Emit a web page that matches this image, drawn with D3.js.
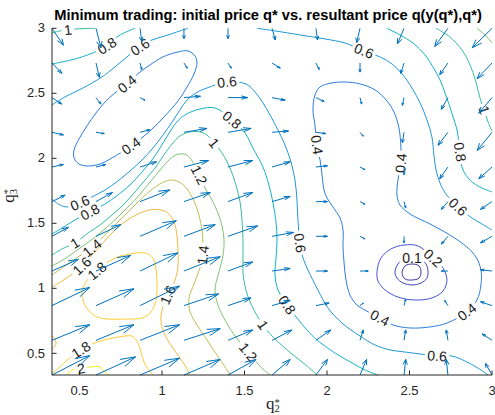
<!DOCTYPE html>
<html>
<head>
<meta charset="utf-8">
<script src="https://cdn.jsdelivr.net/npm/d3@7/dist/d3.min.js"></script>
<style>
  html, body { margin: 0; padding: 0; background: #fff; }
  svg { display: block; }
</style>
</head>
<body>
<svg id="chart" width="495" height="415"></svg>
<script>
// ---------------- data ----------------
const titleText = "Minimum trading: initial price q* vs. resultant price q(y(q*),q*)";
const xTicks = [0.5, 1, 1.5, 2, 2.5, 3];
const yTicks = [0.5, 1, 1.5, 2, 2.5, 3];

// quiver grid (q2 along columns, q3 along rows)
const q2Grid = [0.333, 0.600, 0.867, 1.133, 1.400, 1.667, 1.933, 2.200, 2.467, 2.733, 3.000];
const q3Grid = [0.333, 0.600, 0.867, 1.133, 1.400, 1.667, 1.933, 2.200, 2.467, 2.733, 3.000];

// price change field, in hundredths of a price unit; row = q3Grid index
const uField = [
  [23, 24, 24, 22, 17, 11, 7, 4, 1, -1, -4],
  [23, 23, 24, 22, 15, 12, 9, 2, 1, -1, -6],
  [23, 23, 24, 21, 14, 11, 8, 2, 1, -2, -7],
  [16, 21, 23, 22, 15, 11, 7, 5, 0, -4, -7],
  [10, 15, 22, 19, 18, 13, 7, 3, 0, -4, -7],
  [8, 10, 18, 16, 15, 11, 7, 3, 1, -4, -7],
  [7, 6, 10, 15, 15, 11, 7, 3, 0, -5, -8],
  [7, 5, 6, 14, 14, 10, 6, 2, -1, -6, -9],
  [6, 3, 3, 10, 12, 8, 5, 1, -1, -4, -8],
  [6, 2, 1, 2, 2, 5, 2, 0, -2, -5, -9],
  [7, 3, 1, 0, 0, 2, 1, -2, -4, -8, -12]
];
const vField = [
  [15, 14, 13, 12, 12, 12, 12, 12, 12, 12, 9],
  [12, 12, 12, 9, 8, 8, 8, 8, 8, 8, 5],
  [14, 13, 15, 9, 6, 4, 2, 2, 5, 4, 3],
  [9, 12, 14, 11, 7, 2, 0, 0, 0, 0, 1],
  [7, 9, 12, 9, 8, 3, 0, -2, -5, -6, -5],
  [5, 7, 9, 7, 7, 4, 0, -2, -5, -6, -6],
  [2, 2, 4, 5, 5, 4, 1, -2, -6, -9, -9],
  [-2, -1, 2, 3, 3, 1, -1, -3, -8, -10, -14],
  [-5, -5, -2, 1, 0, -2, -3, -5, -6, -9, -12],
  [-8, -11, -5, -4, -4, -4, -5, -7, -8, -9, -12],
  [-13, -15, -10, -8, -8, -9, -9, -11, -12, -14, -15]
];

// contour levels of the resultant price distance
const levels = [0.05, 0.1, 0.2, 0.4, 0.6, 0.8, 1, 1.2, 1.4, 1.6, 1.8, 2];

// iso-lines, as [q2, q3] points
const c200 = [[0.424,0.333],[0.455,0.372],[0.509,0.383],[0.564,0.395],[0.624,0.395],[0.648,0.364],[0.679,0.333]];
const c180a = [[0.333,0.341],[0.382,0.395],[0.424,0.449],[0.467,0.487],[0.509,0.526],[0.552,0.556],[0.606,0.587],[0.703,0.618],[0.776,0.633],[0.818,0.633],[0.848,0.595],[0.873,0.510],[0.891,0.433],[0.915,0.380],[0.945,0.333]];
const c180b = [[0.521,0.910],[0.515,0.972],[0.539,1.049],[0.576,1.103],[0.606,1.133],[0.648,1.180],[0.715,1.233],[0.806,1.264],[0.897,1.272],[0.945,1.233],[0.964,1.141],[0.970,1.026],[0.964,0.910],[0.933,0.818],[0.879,0.772],[0.776,0.764],[0.673,0.764],[0.606,0.780],[0.558,0.826],[0.533,0.872],[0.521,0.910]];
const c160a = [[0.333,1.010],[0.394,1.056],[0.455,1.110],[0.515,1.172],[0.582,1.264],[0.642,1.349],[0.709,1.441],[0.782,1.518],[0.855,1.572],[0.927,1.603],[0.988,1.603],[1.036,1.579],[1.073,1.510],[1.091,1.403],[1.097,1.280],[1.097,1.172],[1.079,1.064],[1.036,0.949],[1.000,0.833],[0.994,0.741],[1.018,0.641],[1.061,0.549],[1.109,0.464],[1.145,0.395],[1.170,0.333]];
const c160b = [[0.333,0.633],[0.352,0.610],[0.358,0.579],[0.352,0.556],[0.333,0.533]];
const c140 = [[0.333,1.103],[0.412,1.172],[0.491,1.241],[0.576,1.310],[0.648,1.403],[0.715,1.487],[0.788,1.579],[0.861,1.672],[0.927,1.749],[0.988,1.803],[1.048,1.833],[1.103,1.818],[1.152,1.764],[1.194,1.672],[1.224,1.564],[1.242,1.449],[1.248,1.349],[1.248,1.256],[1.230,1.156],[1.194,1.033],[1.164,0.926],[1.170,0.818],[1.212,0.718],[1.273,0.603],[1.333,0.487],[1.382,0.395],[1.412,0.333]];
const c120a = [[0.333,1.172],[0.418,1.233],[0.503,1.310],[0.588,1.387],[0.661,1.464],[0.733,1.549],[0.806,1.641],[0.873,1.733],[0.933,1.826],[0.988,1.910],[1.036,1.979],[1.085,2.026],[1.133,2.033],[1.170,2.003],[1.224,1.872],[1.261,1.772],[1.303,1.679],[1.339,1.579],[1.364,1.479],[1.376,1.372],[1.370,1.256],[1.345,1.126],[1.321,0.987],[1.339,0.872],[1.382,0.756],[1.430,0.656],[1.521,0.510],[1.582,0.418],[1.618,0.372],[1.655,0.333]];
const c120b = [[2.909,3.0],[2.958,2.949],[3.0,2.887]];
const c100a = [[0.333,1.256],[0.394,1.303],[0.473,1.349],[0.552,1.426],[0.624,1.487],[0.697,1.564],[0.770,1.649],[0.836,1.741],[0.897,1.833],[0.958,1.926],[1.012,2.026],[1.061,2.110],[1.109,2.172],[1.170,2.203],[1.230,2.203],[1.273,2.179],[1.315,2.118],[1.364,2.041],[1.412,1.926],[1.448,1.795],[1.473,1.664],[1.485,1.526],[1.491,1.372],[1.491,1.233],[1.491,1.118],[1.509,0.987],[1.545,0.864],[1.612,0.718],[1.667,0.633],[1.745,0.541],[1.818,0.464],[1.879,0.403],[1.939,0.333]];
const c100b = [[0.333,2.964],[0.382,2.980],[0.430,2.987],[0.479,2.995],[0.533,2.998],[0.594,3.0]];
const c100c = [[2.661,3.0],[2.745,2.933],[2.818,2.833],[2.867,2.718],[2.903,2.587],[2.927,2.464],[2.952,2.372],[2.976,2.279],[3.0,2.210]];
const c080a = [[0.333,1.418],[0.394,1.464],[0.473,1.526],[0.564,1.587],[0.655,1.649],[0.733,1.718],[0.806,1.795],[0.879,1.895],[0.939,1.987],[0.988,2.079],[1.036,2.179],[1.085,2.272],[1.139,2.333],[1.230,2.379],[1.321,2.387],[1.424,2.295],[1.503,2.195],[1.551,2.079],[1.612,1.933],[1.648,1.795],[1.673,1.656],[1.691,1.510],[1.697,1.372],[1.691,1.233],[1.685,1.103],[1.703,0.987],[1.758,0.872],[1.818,0.772],[1.879,0.679],[1.939,0.603],[2.048,0.503],[2.152,0.426],[2.230,0.372],[2.309,0.333]];
const c080b = [[0.333,2.726],[0.394,2.741],[0.473,2.764],[0.564,2.802],[0.667,2.864],[0.727,2.933],[0.770,2.964],[0.836,3.0]];
const c080c = [[2.364,3.0],[2.442,2.949],[2.521,2.887],[2.594,2.795],[2.642,2.703],[2.685,2.603],[2.715,2.503],[2.745,2.395],[2.764,2.318],[2.788,2.218],[2.806,2.049],[2.818,1.933],[2.855,1.849],[2.915,1.787],[3.0,1.741]];
const c060a = [[0.333,1.687],[0.382,1.641],[0.424,1.626],[0.503,1.656],[0.576,1.703],[0.655,1.756],[0.733,1.826],[0.806,1.903],[0.879,1.987],[0.945,2.079],[1.006,2.179],[1.061,2.279],[1.109,2.372],[1.152,2.449],[1.206,2.503],[1.273,2.541],[1.394,2.587],[1.509,2.572],[1.564,2.510],[1.612,2.426],[1.655,2.333],[1.703,2.218],[1.745,2.103],[1.782,1.972],[1.806,1.833],[1.818,1.679],[1.824,1.526],[1.836,1.349],[1.855,1.233],[1.885,1.141],[1.945,0.987],[2.006,0.849],[2.091,0.733],[2.200,0.633],[2.291,0.564],[2.382,0.526],[2.473,0.510],[2.564,0.495],[2.667,0.479],[2.758,0.479],[2.836,0.441],[2.915,0.387],[2.976,0.333]];
const c060b = [[0.333,2.410],[0.412,2.472],[0.521,2.541],[0.636,2.626],[0.715,2.703],[0.788,2.780],[0.867,2.856],[0.939,2.910],[1.018,2.941],[1.109,2.980],[1.158,3.0]];
const c060c = [[1.576,3.0],[1.685,2.980],[1.836,2.949],[1.988,2.918],[2.109,2.887],[2.224,2.826],[2.321,2.780],[2.394,2.726],[2.455,2.649],[2.515,2.541],[2.564,2.426],[2.606,2.295],[2.636,2.164],[2.648,2.026],[2.661,1.910],[2.685,1.810],[2.721,1.726],[2.794,1.626],[2.879,1.541],[2.939,1.495],[3.0,1.449]];
const c040a = [[1.158,2.826],[1.097,2.818],[1.006,2.780],[0.927,2.718],[0.867,2.664],[0.788,2.572],[0.715,2.503],[0.655,2.433],[0.600,2.349],[0.545,2.249],[0.497,2.149],[0.467,2.064],[0.467,2.003],[0.497,1.956],[0.552,1.941],[0.624,1.956],[0.697,2.003],[0.812,2.095],[0.927,2.210],[1.018,2.326],[1.097,2.441],[1.152,2.549],[1.194,2.649],[1.212,2.733],[1.200,2.787],[1.158,2.826]];
const c040b = [[2.230,0.833],[2.321,0.772],[2.400,0.718],[2.503,0.695],[2.624,0.703],[2.727,0.733],[2.848,0.818],[2.909,0.910],[2.933,1.026],[2.933,1.141],[2.903,1.241],[2.848,1.318],[2.745,1.410],[2.624,1.495],[2.503,1.572],[2.442,1.641],[2.424,1.718],[2.430,1.833],[2.448,1.964],[2.448,2.087],[2.436,2.233],[2.406,2.356],[2.358,2.449],[2.291,2.526],[2.200,2.572],[2.109,2.587],[2.030,2.580],[1.958,2.549],[1.927,2.487],[1.915,2.372],[1.927,2.256],[1.939,2.103],[1.958,1.987],[1.970,1.872],[1.982,1.756],[2.000,1.695],[2.036,1.626],[2.079,1.541],[2.097,1.449],[2.097,1.318],[2.103,1.202],[2.115,1.064],[2.139,0.949],[2.176,0.879],[2.230,0.833]];
const c020 = [[2.303,1.126],[2.327,1.233],[2.388,1.303],[2.467,1.333],[2.552,1.326],[2.642,1.233],[2.703,1.156],[2.727,1.064],[2.703,0.979],[2.636,0.926],[2.533,0.910],[2.430,0.933],[2.352,0.987],[2.309,1.056],[2.303,1.126]];
const c010 = [[2.412,1.126],[2.430,1.187],[2.467,1.226],[2.515,1.233],[2.564,1.226],[2.600,1.187],[2.612,1.133],[2.606,1.079],[2.570,1.041],[2.515,1.026],[2.461,1.041],[2.424,1.079],[2.412,1.126]];
const c005 = [[2.455,1.118],[2.473,1.172],[2.515,1.187],[2.558,1.172],[2.570,1.126],[2.558,1.079],[2.515,1.064],[2.473,1.072],[2.455,1.118]];

const contourSet = [
  {level: 2, points: c200}, {level: 1.8, points: c180a}, {level: 1.8, points: c180b},
  {level: 1.6, points: c160a}, {level: 1.6, points: c160b}, {level: 1.4, points: c140},
  {level: 1.2, points: c120a}, {level: 1.2, points: c120b},
  {level: 1, points: c100a}, {level: 1, points: c100b}, {level: 1, points: c100c},
  {level: 0.8, points: c080a}, {level: 0.8, points: c080b}, {level: 0.8, points: c080c},
  {level: 0.6, points: c060a}, {level: 0.6, points: c060b}, {level: 0.6, points: c060c},
  {level: 0.4, points: c040a}, {level: 0.4, points: c040b},
  {level: 0.2, points: c020}, {level: 0.1, points: c010}, {level: 0.05, points: c005}
];

// inline level labels: [level, q2, q3]
const contourLabels = [
  [2, 0.509, 0.383],
  [1.8, 0.509, 0.526], [1.8, 0.606, 1.133],
  [1.6, 0.515, 1.172], [1.6, 1.036, 0.949],
  [1.4, 0.576, 1.310], [1.4, 1.248, 1.256],
  [1.2, 1.224, 1.872], [1.2, 1.521, 0.510],
  [1, 0.473, 1.349], [1, 1.315, 2.118], [1, 1.612, 0.718], [1, 0.430, 2.987], [1, 2.952, 2.372],
  [0.8, 0.564, 1.587], [0.8, 1.424, 2.295], [0.8, 1.758, 0.872], [0.8, 0.667, 2.864], [0.8, 2.806, 2.049],
  [0.6, 0.503, 1.656], [0.6, 1.394, 2.587], [0.6, 1.836, 1.349], [0.6, 2.667, 0.479],
  [0.6, 0.867, 2.856], [0.6, 2.224, 2.826], [0.6, 2.794, 1.626],
  [0.4, 0.788, 2.572], [0.4, 0.812, 2.095], [0.4, 2.321, 0.772], [0.4, 2.848, 0.818],
  [0.4, 2.448, 1.964], [0.4, 1.939, 2.103],
  [0.2, 2.642, 1.233], [0.1, 2.515, 1.233]
];

// ---------------- drawing ----------------
const width = 495, height = 415;
const margin = {left: 52, right: 3, top: 28.3, bottom: 40};
const levelColors = ["#3d32aa", "#4140be", "#4653d6", "#2b7be0", "#1e98d6", "#13b1c5",
                     "#35bd9f", "#7fc373", "#bcbd50", "#eeb945", "#fbcc31", "#f4ec19"];
const color = d3.scaleOrdinal().domain(levels).range(levelColors);
const arrowColor = "#0072bd";
const axisColor = "#262626";
const sans = "'Liberation Sans', Arial, Helvetica, sans-serif";

const svg = d3.select("#chart");
const x = d3.scaleLinear().domain([1 / 3, 3]).range([margin.left, width - margin.right]);
const y = d3.scaleLinear().domain([1 / 3, 3]).range([height - margin.bottom, margin.top]);

const defs = svg.append("defs");
const gContours = svg.append("g").attr("fill", "none").attr("stroke-width", 1);
const gLabels = svg.append("g")
  .attr("font-family", sans)
  .attr("font-size", 14).attr("fill", "#1a1a1a").attr("text-anchor", "middle");
const gArrows = svg.append("g").attr("fill", "none").attr("stroke", arrowColor).attr("stroke-width", 1);

// pixel coordinates for each iso-line
contourSet.forEach(c => {
  const first = c.points[0], last = c.points[c.points.length - 1];
  c.closed = first[0] === last[0] && first[1] === last[1];
  const pts = c.closed ? c.points.slice(0, -1) : c.points;
  c.px = pts.map(p => [x(p[0]), y(p[1])]);
  c.labels = [];
});

function tangentAt(c, px, py) {
  let k = 0, best = Infinity;
  c.px.forEach((p, i) => {
    const d = (p[0] - px) ** 2 + (p[1] - py) ** 2;
    if (d < best) { best = d; k = i; }
  });
  const n = c.px.length;
  let a, b;
  if (c.closed) { a = c.px[(k - 1 + n) % n]; b = c.px[(k + 1) % n]; }
  else { a = c.px[Math.max(0, k - 1)]; b = c.px[Math.min(n - 1, k + 1)]; }
  let ang = Math.atan2(b[1] - a[1], b[0] - a[0]) * 180 / Math.PI;
  if (ang > 90) ang -= 180;
  if (ang <= -90) ang += 180;
  return {ang, dist: Math.sqrt(best)};
}

// place labels along their lines
contourLabels.forEach(([lev, q2, q3]) => {
  const px = x(q2), py = y(q3);
  let owner = null, info = null;
  contourSet.filter(c => c.level === lev).forEach(c => {
    const t = tangentAt(c, px, py);
    if (!info || t.dist < info.dist) { info = t; owner = c; }
  });
  const txt = gLabels.append("text")
    .attr("transform", `translate(${px},${py}) rotate(${info.ang})`)
    .attr("dy", "0.35em")
    .text(String(lev));
  const w = txt.node().getComputedTextLength();
  owner.labels.push({px, py, ang: info.ang, w});
});

// iso-lines, broken where a label sits on them
const lineOpen = d3.line().x(d => d[0]).y(d => d[1]).curve(d3.curveCatmullRom.alpha(0.5));
const lineClosed = d3.line().x(d => d[0]).y(d => d[1]).curve(d3.curveCatmullRomClosed.alpha(0.5));
contourSet.forEach((c, i) => {
  const path = gContours.append("path")
    .attr("d", (c.closed ? lineClosed : lineOpen)(c.px))
    .attr("stroke", color(c.level));
  if (c.labels.length) {
    const m = defs.append("mask").attr("id", "gap" + i)
      .attr("maskUnits", "userSpaceOnUse")
      .attr("x", 0).attr("y", 0).attr("width", width).attr("height", height);
    m.append("rect").attr("width", width).attr("height", height).attr("fill", "#fff");
    c.labels.forEach(l => {
      m.append("rect")
        .attr("x", -l.w / 2 - 2.5).attr("y", -6).attr("width", l.w + 5).attr("height", 12)
        .attr("transform", `translate(${l.px},${l.py}) rotate(${l.ang})`)
        .attr("fill", "#000");
    });
    path.attr("mask", `url(#gap${i})`);
  }
});

// quiver arrows
const headBack = 0.33, headSpread = 0.33;
q3Grid.forEach((q3, i) => {
  q2Grid.forEach((q2, j) => {
    const u = uField[i][j] * 0.01, v = vField[i][j] * 0.01;
    const x1 = q2 + u, y1 = q3 + v;
    const h1 = [x1 - headBack * (u + headSpread * v), y1 - headBack * (v - headSpread * u)];
    const h2 = [x1 - headBack * (u - headSpread * v), y1 - headBack * (v + headSpread * u)];
    gArrows.append("path").attr("d",
      `M${x(q2)},${y(q3)}L${x(x1)},${y(y1)}` +
      `M${x(h1[0])},${y(h1[1])}L${x(x1)},${y(y1)}L${x(h2[0])},${y(h2[1])}`);
  });
});

// axes (ticks point inward, no box)
const fmt = d => String(d);
const xAxis = svg.append("g")
  .attr("transform", `translate(0,${height - margin.bottom})`)
  .call(d3.axisBottom(x).tickValues(xTicks).tickFormat(fmt)
    .tickSizeInner(-4.5).tickSizeOuter(0).tickPadding(10.5).offset(0));
const yAxis = svg.append("g")
  .attr("transform", `translate(${margin.left},0)`)
  .call(d3.axisLeft(y).tickValues(yTicks).tickFormat(fmt)
    .tickSizeInner(-4.5).tickSizeOuter(0).tickPadding(7).offset(0));
[xAxis, yAxis].forEach(g => {
  g.select(".domain").attr("stroke", axisColor);
  g.selectAll(".tick line").attr("stroke", axisColor);
  g.selectAll(".tick text").attr("fill", axisColor)
    .attr("font-family", sans).attr("font-size", 13);
});

// axis titles q2*, q3* (subscript with superscript stacked above it)
const serif = "'Liberation Serif', 'Times New Roman', serif";
function axisTitle(g, sub) {
  const t = g.append("text").attr("fill", axisColor).attr("font-family", serif);
  t.append("tspan").attr("x", -6).attr("font-size", 17).text("q");
  t.append("tspan").attr("x", 2.5).attr("dy", 3).attr("font-size", 10.5).text(sub);
  t.append("tspan").attr("x", 2.5).attr("dy", -6.5).attr("font-size", 10.5).text("*");
}
axisTitle(svg.append("g")
  .attr("transform", `translate(${(x.range()[0] + x.range()[1]) / 2},409)`), "2");
axisTitle(svg.append("g")
  .attr("transform", `translate(14,${(y.range()[0] + y.range()[1]) / 2 - 5}) rotate(-90)`), "3");

// title
svg.append("text")
  .attr("x", 268).attr("y", 19.5)
  .attr("text-anchor", "middle")
  .attr("font-family", sans)
  .attr("font-weight", "bold").attr("font-size", 14.7).attr("fill", "#000")
  .text(titleText);
</script>
</body>
</html>
